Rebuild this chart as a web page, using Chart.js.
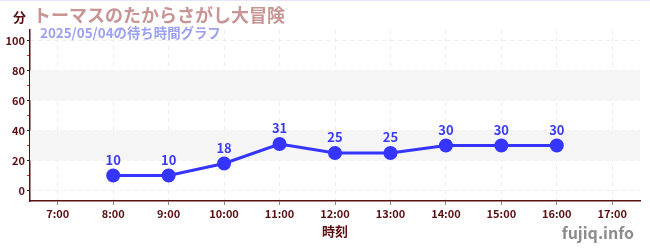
<!DOCTYPE html>
<html><head><meta charset="utf-8">
<script src="https://cdn.jsdelivr.net/npm/chart.js@4.4.1/dist/chart.umd.min.js"></script>
<style>
html,body{margin:0;padding:0;background:#fff;}
#wrap{position:relative;width:650px;height:250px;border-top:1px solid #e6e8f8;box-sizing:border-box;}
canvas{display:block;}
</style></head>
<body><div id="wrap"><canvas id="c" width="650" height="249"></canvas></div>
<script>
const titleText = 'トーマスのたからさがし大冒険';
const subtitleText = '2025/05/04の待ち時間グラフ';
const yUnit = '分';
const xTitle = '時刻';
const watermark = 'fujiq.info';
const categories = ['7:00','8:00','9:00','10:00','11:00','12:00','13:00','14:00','15:00','16:00','17:00'];
const waits = [null,10,10,18,31,25,25,30,30,30,null];
const bands = [[20,40],[60,80]];

const FONT = '"Noto Sans CJK JP","Noto Sans",sans-serif';
const AXIS = '#5a0f12';

const deco = {
  id:'deco',
  beforeDatasetsDraw(chart){
    const {ctx, chartArea:a, scales:{y}} = chart;
    ctx.save();
    ctx.fillStyle = '#f5f5f5';
    bands.forEach(([lo,hi])=>{
      const t = y.getPixelForValue(hi), b = y.getPixelForValue(lo);
      ctx.fillRect(a.left, t, a.right-a.left, b-t);
    });
    ctx.restore();
  },
  afterDatasetsDraw(chart){
    const {ctx} = chart;
    const meta = chart.getDatasetMeta(0);
    ctx.save();
    ctx.fillStyle = '#3a3af0';
    ctx.font = 'bold 13px '+FONT;
    ctx.textAlign = 'center';
    ctx.textBaseline = 'alphabetic';
    meta.data.forEach((p,i)=>{
      const v = waits[i];
      if (v==null) return;
      ctx.fillText(String(v), p.x, p.y-11);
    });
    ctx.restore();
  },
  afterDraw(chart){
    const {ctx, chartArea:a} = chart;
    ctx.save();
    ctx.textBaseline = 'alphabetic';
    ctx.textAlign = 'left';
    ctx.fillStyle = AXIS;
    ctx.font = 'bold 13px '+FONT;
    ctx.fillText(yUnit, 13, 21);
    ctx.fillStyle = '#c89494';
    ctx.font = 'bold 18px '+FONT;
    ctx.fillText(titleText, 33, 21);
    ctx.fillStyle = '#9ba0f2';
    ctx.font = 'bold 13.4px '+FONT;
    ctx.fillText(subtitleText, 40, 37);
    ctx.fillStyle = AXIS;
    ctx.font = 'bold 13px '+FONT;
    ctx.textAlign = 'center';
    ctx.fillText(xTitle, (a.left+a.right)/2, 235);
    ctx.fillStyle = '#8c8c8c';
    ctx.font = 'bold 16px '+FONT;
    ctx.textAlign = 'right';
    ctx.fillText(watermark, 634, 238);
    ctx.restore();
  }
};

new Chart(document.getElementById('c'), {
  type:'line',
  data:{labels:categories, datasets:[{
    data:waits, borderColor:'#3535ff', backgroundColor:'#3535ff',
    borderWidth:3, pointRadius:5.5, pointHoverRadius:5.5, spanGaps:false, tension:0
  }]},
  options:{
    responsive:false, animation:false, events:[],
    layout:{padding:{top:29, right:10, left:0, bottom:0}},
    plugins:{legend:{display:false}, tooltip:{enabled:false}},
    scales:{
      x:{
        offset:true,
        afterFit(s){ s.height = 49; },
        border:{color:AXIS, width:1.5, dash:[4,4]},
        grid:{color:'#ececec', tickLength:4, tickColor:'#888', tickBorderDash:[], offset:false},
        ticks:{color:AXIS, font:{family:FONT, size:11, weight:'bold'}, padding:2, maxRotation:0, autoSkip:false}
      },
      y:{
        min:-7, max:107,
        afterFit(s){ s.width = 30; },
        afterBuildTicks(s){ const t=[]; for(let v=0; v<=100; v+=10) t.push({value:v}); s.ticks=t; },
        border:{color:AXIS, width:1.5, dash:[4,4]},
        grid:{
          color:(c)=> (c.tick && c.tick.value%20===0) ? '#ececec' : 'rgba(0,0,0,0)',
          tickLength:3, tickBorderDash:[],
          tickColor:(c)=> (c.tick && c.tick.value%20===0) ? '#222' : '#e02020'
        },
        ticks:{color:AXIS, font:{family:FONT, size:11, weight:'bold'}, padding:2,
          callback:(v)=> (v%20===0 ? String(v) : '')}
      }
    }
  },
  plugins:[deco]
});
</script></body></html>
